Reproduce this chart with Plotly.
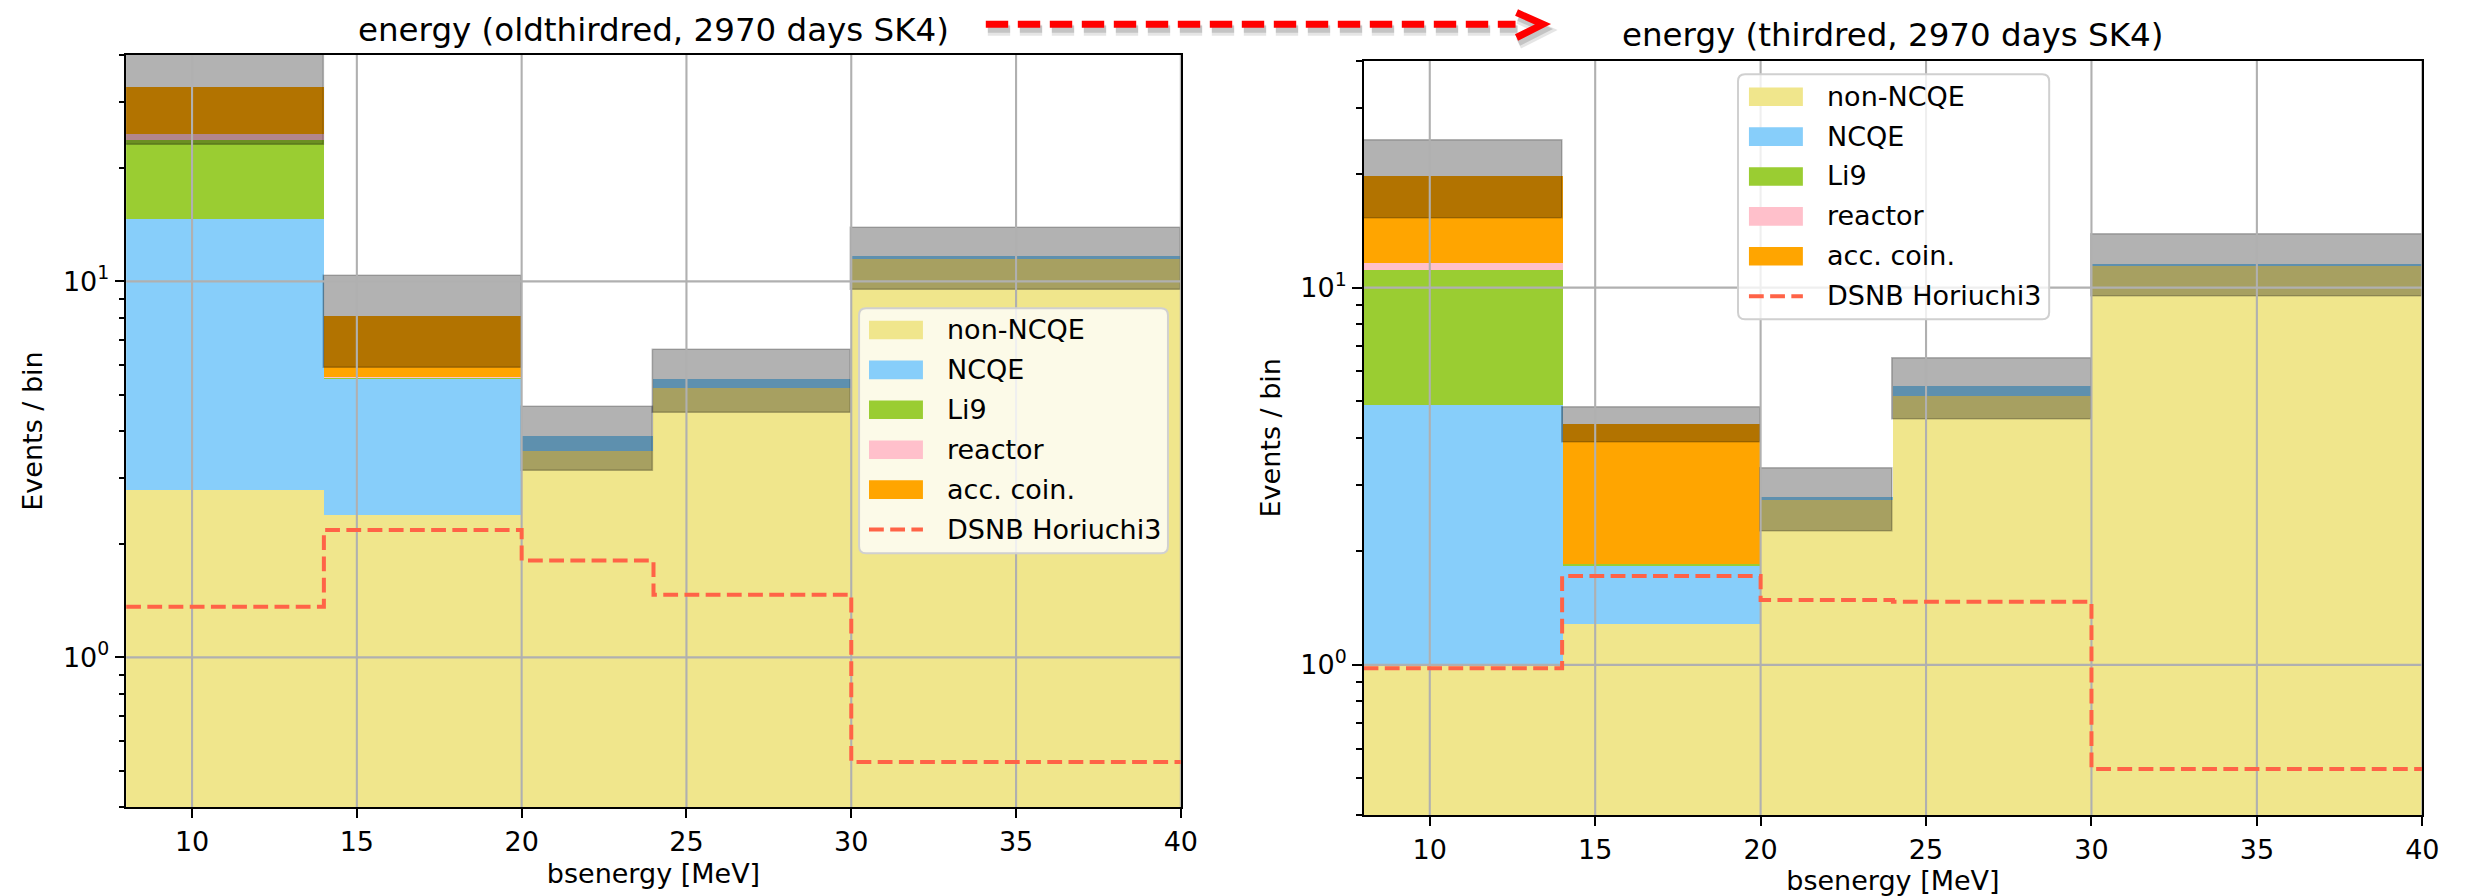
import math
import plotly.graph_objects as go

W, H = 2483, 896

# ---------------- data ----------------
edges = [8, 14, 20, 24, 30, 40]
xticks = [10, 15, 20, 25, 30, 35, 40]
yticks = [1, 10]
yticktext = ["10<sup>0</sup>", "10<sup>1</sup>"]
yminor = [0.4, 0.5, 0.6, 0.7, 0.8, 0.9, 2, 3, 4, 5, 6, 7, 8, 9, 20, 30, 40]
yrange = [0.4, 40]

labels = ["non-NCQE", "NCQE", "Li9", "reactor", "acc. coin."]
colors = ["#F0E68C", "#87CEFA", "#9ACD32", "#FFC0CB", "#FFA500"]
dsnb_label = "DSNB Horiuchi3"

# left panel: oldthirdred
old_non_ncqe = [2.78, 2.39, 3.53, 5.20, 11.47]
old_ncqe = [11.88, 3.11, 0.35, 0.31, 0.19]
old_li9 = [9.08, 0.05, 0.0, 0.0, 0.0]
old_reactor = [0.86, 0.01, 0.0, 0.0, 0.0]
old_acc = [8.30, 2.54, 0.0, 0.0, 0.0]
old_err = [9.9, 2.21, 0.745, 1.04, 2.18]
old_dsnb = [1.364, 2.18, 1.81, 1.467, 0.527]

# right panel: thirdred
new_non_ncqe = [1.00, 1.29, 2.76, 5.19, 11.44]
new_ncqe = [3.91, 0.54, 0.03, 0.30, 0.18]
new_li9 = [6.25, 0.03, 0.0, 0.0, 0.0]
new_reactor = [0.49, 0.0, 0.0, 0.0, 0.0]
new_acc = [8.22, 2.50, 0.0, 0.0, 0.0]
new_err = [4.66, 0.465, 0.53, 1.005, 2.17]
new_dsnb = [0.98, 1.72, 1.486, 1.47, 0.530]

FONT = "DejaVu Sans"
FS = 27
TITLE_FS = 32.5


def fx(p):
    return p / W


def fy(p):
    return 1 - p / H


panels = [
    dict(title="energy (oldthirdred, 2970 days SK4)",
         comps=[old_non_ncqe, old_ncqe, old_li9, old_reactor, old_acc],
         err=old_err, dsnb=old_dsnb,
         px=(127, 1189), py=(55, 807), title_y=29.8,
         leg=(865, 1176, 308.3, 553.3), leg_rows=330.0, leg_patch=875),
    dict(title="energy (thirdred, 2970 days SK4)",
         comps=[new_non_ncqe, new_ncqe, new_li9, new_reactor, new_acc],
         err=new_err, dsnb=new_dsnb,
         px=(1373, 2439), py=(60.5, 815), title_y=34.5,
         leg=(1750, 2063.3, 74.3, 319.3), leg_rows=96.7, leg_patch=1761),
]

centers = [(a + b) / 2 for a, b in zip(edges[:-1], edges[1:])]
widths = [b - a for a, b in zip(edges[:-1], edges[1:])]

fig = go.Figure()
shapes = []
annotations = []

for i, p in enumerate(panels):
    sfx = "" if i == 0 else "2"
    xa, ya = "x" + sfx, "y" + sfx
    base = [1e-3] * len(centers)
    for lab, col, vals in zip(labels, colors, p["comps"]):
        fig.add_trace(go.Bar(x=centers, y=vals, base=base, width=widths,
                             marker=dict(color=col, line=dict(width=0)),
                             name=lab, showlegend=False, xaxis=xa, yaxis=ya))
        base = [b + v if b > 1e-3 else v for b, v in zip(base, vals)]
    total = base
    lo = [t - e for t, e in zip(total, p["err"])]
    fig.add_trace(go.Bar(x=centers, y=[2 * e for e in p["err"]], base=lo, width=widths,
                         marker=dict(color="rgba(0,0,0,0.3)",
                                     line=dict(color="rgba(0,0,0,0.25)", width=1.6)),
                         name="uncertainty", showlegend=False, xaxis=xa, yaxis=ya))
    # grid lines (drawn above bars as in the reference)
    gx, gy = [], []
    for t in xticks:
        gx += [t, t, None]
        gy += [yrange[0], yrange[1], None]
    for t in yticks:
        gx += [edges[0], edges[-1], None]
        gy += [t, t, None]
    fig.add_trace(go.Scatter(x=gx, y=gy, mode="lines",
                             line=dict(color="#b0b0b0", width=2.1),
                             hoverinfo="skip", showlegend=False, xaxis=xa, yaxis=ya))
    fig.add_trace(go.Scatter(x=edges, y=p["dsnb"] + [p["dsnb"][-1]], mode="lines",
                             line=dict(color="#FF6347", width=4, dash="14.8px,6.4px", shape="hv"),
                             name=dsnb_label, showlegend=False, xaxis=xa, yaxis=ya))

    x0, x1 = p["px"]
    y0, y1 = p["py"]
    common = dict(showline=True, mirror=True, linecolor="black", linewidth=2.1,
                  showgrid=False, zeroline=False, layer="above traces",
                  ticks="outside", tickcolor="black", tickwidth=2.1, ticklen=9.4,
                  tickfont=dict(family=FONT, size=FS, color="black"),
                  title_font=dict(family=FONT, size=FS, color="black"))
    xlay = dict(common, domain=[fx(x0), fx(x1)], range=[edges[0], edges[-1]],
                tickmode="array", tickvals=xticks, anchor=ya,
                title_text="bsenergy [MeV]", title_standoff=8)
    ylay = dict(common, domain=[fy(y1), fy(y0)], type="log",
                range=[math.log10(yrange[0]), math.log10(yrange[1])],
                tickmode="array", tickvals=yticks, ticktext=yticktext, anchor=xa,
                minor=dict(tickmode="array", tickvals=yminor, ticks="outside",
                           ticklen=5.4, tickwidth=1.6, tickcolor="black", showgrid=False),
                title_text="Events / bin", title_standoff=12)
    fig.update_layout(**{"xaxis" + sfx: xlay, "yaxis" + sfx: ylay})

    # title
    annotations.append(dict(text=p["title"], xref="paper", yref="paper",
                            x=fx((x0 + x1) / 2), y=fy(p["title_y"]), xanchor="center", yanchor="middle",
                            showarrow=False, font=dict(family=FONT, size=TITLE_FS, color="black")))

    # legend (drawn manually to reproduce matplotlib's layout)
    lx0, lx1, ly0, ly1 = p["leg"]
    r = 7
    path = (f"M {fx(lx0 + r)},{fy(ly0)} L {fx(lx1 - r)},{fy(ly0)} Q {fx(lx1)},{fy(ly0)} {fx(lx1)},{fy(ly0 + r)} "
            f"L {fx(lx1)},{fy(ly1 - r)} Q {fx(lx1)},{fy(ly1)} {fx(lx1 - r)},{fy(ly1)} "
            f"L {fx(lx0 + r)},{fy(ly1)} Q {fx(lx0)},{fy(ly1)} {fx(lx0)},{fy(ly1 - r)} "
            f"L {fx(lx0)},{fy(ly0 + r)} Q {fx(lx0)},{fy(ly0)} {fx(lx0 + r)},{fy(ly0)} Z")
    shapes.append(dict(type="path", path=path, xref="paper", yref="paper", layer="above",
                       fillcolor="rgba(255,255,255,0.8)", line=dict(color="#d0d0d0", width=2)))
    step = 39.9
    pw, ph = 54.3, 18.6
    px0 = p["leg_patch"]
    for k, (lab, col) in enumerate(zip(labels + [dsnb_label], colors + [None])):
        cy = p["leg_rows"] + k * step
        if col is not None:
            shapes.append(dict(type="rect", xref="paper", yref="paper", layer="above",
                               x0=fx(px0), x1=fx(px0 + pw), y0=fy(cy - ph / 2), y1=fy(cy + ph / 2),
                               fillcolor=col, line=dict(width=0)))
        else:
            shapes.append(dict(type="line", xref="paper", yref="paper", layer="above",
                               x0=fx(px0), x1=fx(px0 + pw), y0=fy(cy), y1=fy(cy),
                               line=dict(color="#FF6347", width=4, dash="14.8px,6.4px")))
        annotations.append(dict(text=lab, xref="paper", yref="paper",
                                x=fx(px0 + pw + 22.5), y=fy(cy - 0.5), xanchor="left", yanchor="middle",
                                showarrow=False, font=dict(family=FONT, size=FS, color="black")))

# red dashed arrow between the two titles (with soft shadow)
ay = 24.3
for dx, dy, col, w in [(2, 6, "rgba(0,0,0,0.10)", 11), (2, 5, "rgba(0,0,0,0.14)", 7)]:
    shapes.append(dict(type="line", xref="paper", yref="paper", layer="above",
                       x0=fx(992.6 + dx), x1=fx(1526 + dx), y0=fy(ay + dy), y1=fy(ay + dy),
                       line=dict(color=col, width=w, dash="22.4px,9.6px")))
    shapes.append(dict(type="path", xref="paper", yref="paper", layer="above",
                       path=f"M {fx(1527 + dx)},{fy(12.5 + dy)} L {fx(1553.5 + dx)},{fy(ay + dy)} L {fx(1527 + dx)},{fy(37.5 + dy)}",
                       line=dict(color=col, width=w)))
shapes.append(dict(type="line", xref="paper", yref="paper", layer="above",
                   x0=fx(992.6), x1=fx(1526), y0=fy(ay), y1=fy(ay),
                   line=dict(color="#FF0000", width=7, dash="22.4px,9.6px")))
shapes.append(dict(type="path", xref="paper", yref="paper", layer="above",
                   path=f"M {fx(1527)},{fy(12.5)} L {fx(1553.5)},{fy(ay)} L {fx(1527)},{fy(37.5)}",
                   line=dict(color="#FF0000", width=7)))

fig.update_layout(width=W, height=H, margin=dict(l=0, r=0, t=0, b=0),
                  paper_bgcolor="white", plot_bgcolor="white",
                  barmode="overlay", bargap=0, showlegend=False,
                  font=dict(family=FONT, size=FS, color="black"),
                  shapes=shapes, annotations=annotations)

fig.write_html("out.html")
